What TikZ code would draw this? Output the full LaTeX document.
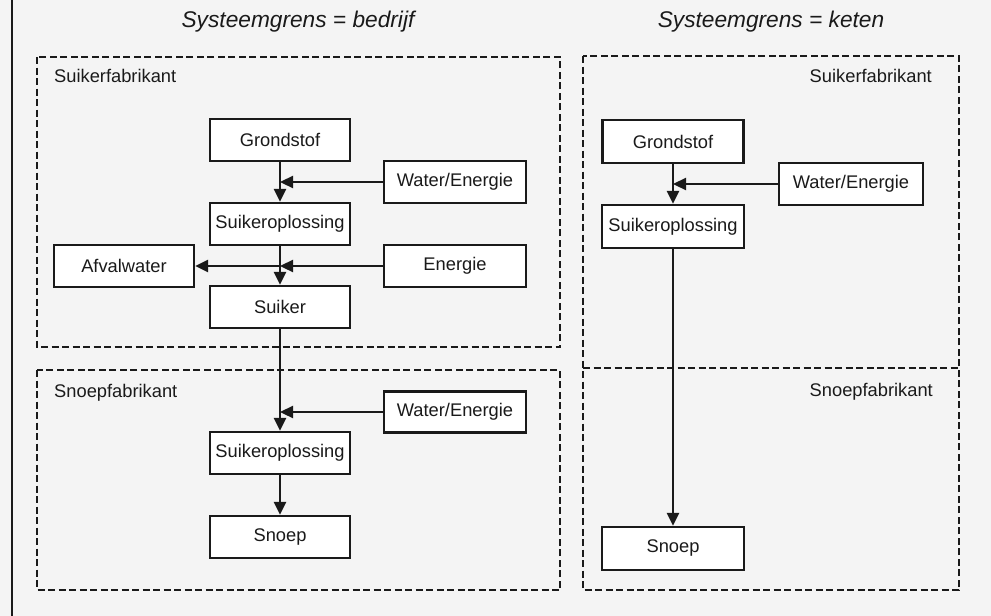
\documentclass[tikz,border=0pt]{standalone}
\usepackage{fontspec}
\setmainfont{Liberation Sans}
\usetikzlibrary{arrows.meta}
\definecolor{bg}{HTML}{F4F4F4}
\definecolor{ink}{HTML}{1A1A1A}
\begin{document}
\begin{tikzpicture}[x=1pt,y=-1pt,
 box/.style={draw=ink, fill=white, line width=2.3pt, minimum width=140pt, minimum height=42pt, inner sep=0pt, font=\fontsize{18.3}{22}\selectfont, text=ink},
 lbl/.style={inner sep=0pt, font=\fontsize{18.3}{22}\selectfont, text=ink},
 ttl/.style={inner sep=0pt, font=\fontsize{22.7}{27}\selectfont\itshape, text=ink},
 border/.style={draw=ink, line width=2.6pt, dash pattern=on 7pt off 3.5pt},
 arr/.style={draw=ink, line width=2.3pt, -{Triangle[length=13pt,width=12pt]}}]
\useasboundingbox (0,0) rectangle (991,616);
\fill[bg] (0,0) rectangle (991,616);
\draw[ink, line width=2.5pt] (12,0) -- (12,616);

% titles
\node[ttl] (t1) at (298,22) {Systeemgrens = bedrijf};
\node[ttl] (t2) at (771,22) {Systeemgrens = keten};

% system borders
\draw[border] (37,57) rectangle (560,347);
\draw[border] (37,370) rectangle (560,590);
\draw[border] (583,56) rectangle (959,590);
\draw[border] (583,368) -- (959,368);

% labels
\node[lbl, anchor=west] (l1) at (54,76) {Suikerfabrikant};
\node[lbl, anchor=west] (l2) at (54,393) {Snoepfabrikant};
\node[lbl, anchor=east] (l3) at (932,76) {Suikerfabrikant};
\node[lbl, anchor=east] (l4) at (933,392) {Snoepfabrikant};

% left column boxes
\node[box] (G1) at (280,140) {Grondstof};
\node[box, minimum width=142pt] (WE1) at (455,182) {Water/Energie};
\node[box] (SO1) at (280,224) {Suikeroplossing};
\node[box] (AF) at (124,266) {Afvalwater};
\node[box, minimum width=142pt] (EN) at (455,266) {Energie};
\node[box] (SU) at (280,307) {Suiker};
\node[box, minimum width=142pt, minimum height=41pt] (WE2) at (455,412) {Water/Energie};
\node[box] (SO2) at (280,453) {Suikeroplossing};
\node[box] (SN1) at (280,537) {Snoep};

% right column boxes
\node[box, minimum width=141pt, minimum height=43pt] (G2) at (673,141.5) {Grondstof};
\node[box, minimum width=144pt] (WE3) at (851,184) {Water/Energie};
\node[box, minimum width=142pt, minimum height=43pt] (SO3) at (673,226.5) {Suikeroplossing};
\node[box, minimum width=142pt, minimum height=43pt] (SN2) at (673,548.5) {Snoep};

% junctions
\coordinate (j1) at (G1.south |- WE1.west);
\coordinate (j2) at (SO1.south |- EN.west);
\coordinate (j3) at (SU.south |- WE2.west);
\coordinate (j4) at (G2.south |- WE3.west);

% connectors left
\draw[arr] (G1.south) -- (SO1.north);
\draw[arr] (WE1.west) -- (j1);
\draw[arr] (SO1.south) -- (SU.north);
\draw[arr] (EN.west) -- (j2);
\draw[arr] (j2) -- (AF.east);
\draw[arr] (SU.south) -- (SO2.north);
\draw[arr] (WE2.west) -- (j3);
\draw[arr] (SO2.south) -- (SN1.north);

% connectors right
\draw[arr] (G2.south) -- (SO3.north);
\draw[arr] (WE3.west) -- (j4);
\draw[arr] (SO3.south) -- (SN2.north);
\end{tikzpicture}
\end{document}
